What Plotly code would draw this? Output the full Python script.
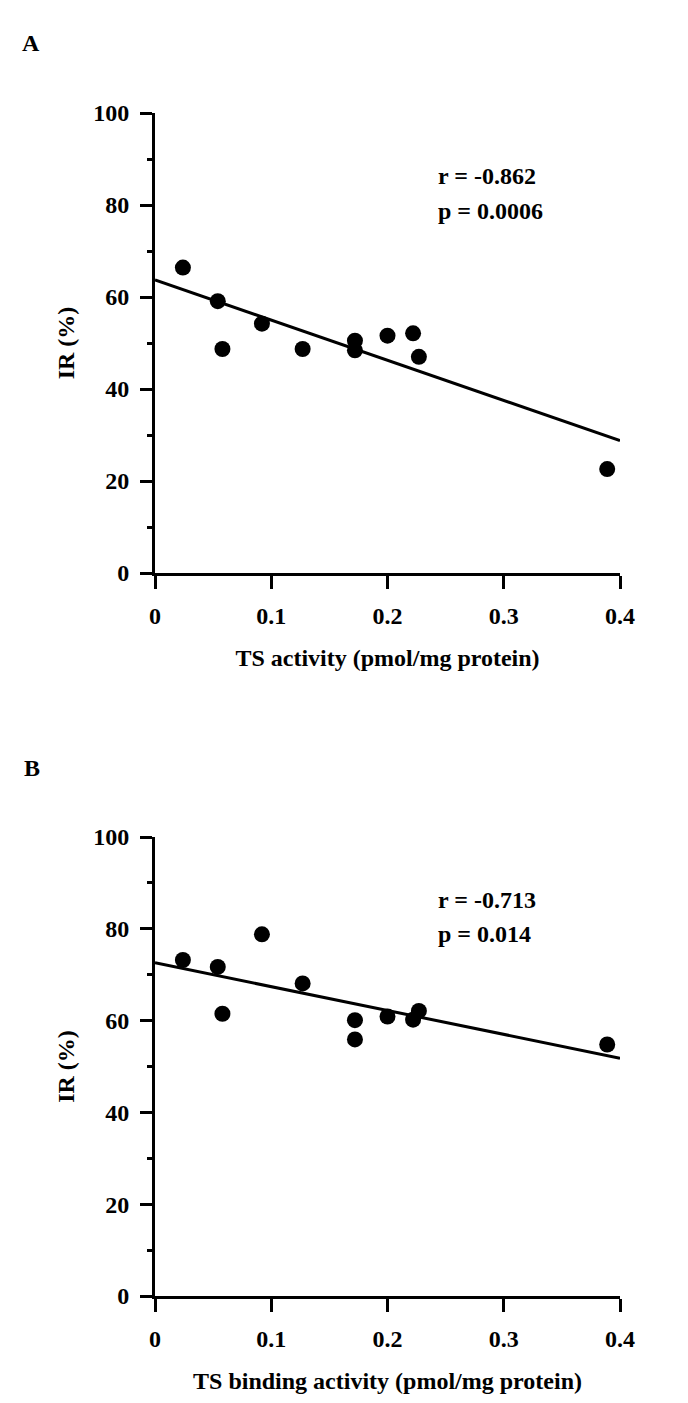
import plotly.graph_objects as go

# ---- data ----
ts_activity = [0.024, 0.054, 0.058, 0.092, 0.127, 0.172, 0.172, 0.200, 0.222, 0.227, 0.389]
ir_a = [66.4, 59.1, 48.7, 54.2, 48.7, 50.5, 48.4, 51.6, 52.1, 47.0, 22.6]
ts_binding = [0.024, 0.054, 0.058, 0.092, 0.127, 0.172, 0.172, 0.200, 0.222, 0.227, 0.389]
ir_b = [73.2, 71.7, 61.5, 78.8, 68.1, 60.1, 55.9, 60.9, 60.2, 62.1, 54.8]
fit_x = [0.0, 0.4]
fit_a = [63.7, 28.8]
fit_b = [72.6, 51.8]
stats_a = ["r = -0.862", "p = 0.0006"]
stats_b = ["r = -0.713", "p = 0.014"]
x_ticks = [0, 0.1, 0.2, 0.3, 0.4]
x_ticklabels = ["0", "0.1", "0.2", "0.3", "0.4"]
y_ticks = [0, 20, 40, 60, 80, 100]
xtitle_a = "TS activity (pmol/mg protein)"
xtitle_b = "TS binding activity (pmol/mg protein)"
ytitle = "IR (%)"

W, H = 688, 1403
FONT = "Liberation Serif"
font24 = dict(family=FONT, size=24, color="black", weight="bold")

fig = go.Figure()

for xs, ys, fy, ax in [(ts_activity, ir_a, fit_a, ""), (ts_binding, ir_b, fit_b, "2")]:
    fig.add_trace(go.Scatter(x=fit_x, y=fy, mode="lines",
                             line=dict(color="black", width=3),
                             xaxis="x" + ax, yaxis="y" + ax, showlegend=False,
                             cliponaxis=False))
    fig.add_trace(go.Scatter(x=xs, y=ys, mode="markers",
                             marker=dict(color="black", size=16, symbol="circle"),
                             xaxis="x" + ax, yaxis="y" + ax, showlegend=False,
                             cliponaxis=False))

xdom = [147 / W, 612 / W]
ydom_a = [1 - 565 / H, 1 - 105 / H]
ydom_b = [1 - 1288 / H, 1 - 829 / H]

def xaxis_cfg(title, anchor, dom):
    return dict(domain=dom, anchor=anchor, range=[0, 0.4],
                tickvals=x_ticks, ticktext=x_ticklabels,
                showline=True, linecolor="black", linewidth=3,
                ticks="outside", ticklen=13, tickwidth=3, tickcolor="black",
                showgrid=False, zeroline=False, tickfont=font24,
                ticklabelstandoff=6,
                title=dict(text=title, font=font24, standoff=22),
                automargin=False, fixedrange=True)

def yaxis_cfg(anchor, dom):
    return dict(domain=dom, anchor=anchor, range=[0, 100],
                tickvals=y_ticks,
                showline=True, linecolor="black", linewidth=3,
                ticks="outside", ticklen=12, tickwidth=3, tickcolor="black",
                minor=dict(dtick=10, tick0=0, ticks="outside", ticklen=5,
                           tickwidth=3, tickcolor="black", showgrid=False),
                showgrid=False, zeroline=False, tickfont=font24,
                ticklabelstandoff=6,
                title=dict(text=ytitle, font=font24, standoff=12),
                automargin=False, fixedrange=True)

annotations = []
for txts, yy, xr, yr in [(stats_a, [86.3, 78.8], "x", "y"), (stats_b, [86.2, 78.8], "x2", "y2")]:
    for t, yv in zip(txts, yy):
        annotations.append(dict(text=t, x=0.242, y=yv, xref=xr, yref=yr,
                                xanchor="left", yanchor="middle",
                                showarrow=False, font=font24))
annotations.append(dict(text="A", x=12 / W, y=1 - 35 / H, xref="paper", yref="paper",
                        xanchor="left", yanchor="middle", showarrow=False, font=font24))
annotations.append(dict(text="B", x=14 / W, y=1 - 760 / H, xref="paper", yref="paper",
                        xanchor="left", yanchor="middle", showarrow=False, font=font24))

fig.update_layout(
    width=W, height=H,
    margin=dict(l=0, r=0, t=0, b=0),
    paper_bgcolor="white", plot_bgcolor="white",
    xaxis=xaxis_cfg(xtitle_a, "y", xdom),
    yaxis=yaxis_cfg("x", ydom_a),
    xaxis2=xaxis_cfg(xtitle_b, "y2", xdom),
    yaxis2=yaxis_cfg("x2", ydom_b),
    annotations=annotations,
    showlegend=False,
)

fig.write_html("out.html")
